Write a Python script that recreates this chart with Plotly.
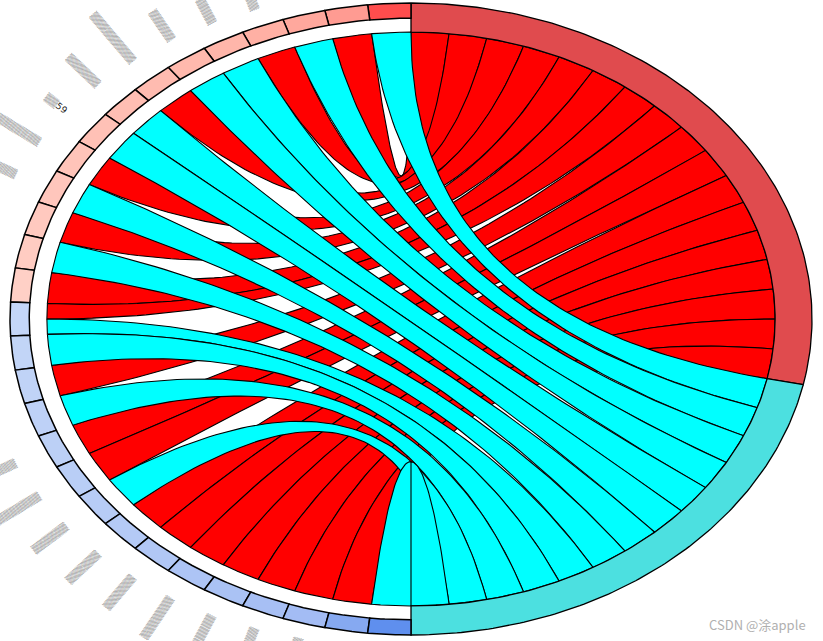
import numpy as np
import plotly.graph_objects as go
from plotly.colors import sample_colorscale

# Terms on the right half, clockwise from the top
TERM_COLORS = {"A": "#E04B4E", "B": "#4CE0E0"}
RIBBON_COLORS = {"A": "#FF0000", "B": "#00FFFF"}

# Each gene block, top of the left half going counter-clockwise: the terms it links to
GENE_TERMS = [
    ["B"], ["A"], ["B"], ["A"], ["B"], ["B"], ["A"], ["B"], ["B"], ["A"], ["B"], ["A"], ["B"], ["A"],
    ["A", "B"], ["B"], ["A"], ["B"], ["A"], ["A"], ["B"],
    ["A"], ["A"], ["A"], ["A"], ["A"], ["A"], ["A"], ["B"],
]
# Block value, same order
GENE_VALUES = [
    1.00, 0.62, 0.56, 0.52, 0.48, 0.45, 0.42, 0.39, 0.36, 0.33, 0.30, 0.27, 0.24, 0.20,
    -0.18, -0.20, -0.22, -0.24, -0.26, -0.28, -0.30, -0.33, -0.36, -0.39, -0.42, -0.45, -0.48, -0.70, -1.00,
]
# The reference's gene names are pixelated; only a few end characters can be read
DARK = '<span style="color:#222">%s</span>'
GENE_LABELS = [
    "▒▒▒▒", "▒▒▒▒", "▒▒▒" + DARK % "7", "▒▒▒▒", "▒▒▒▒", "▒▒▒▒▒", "▒▒▒▒▒▒▒▒▒", "▒▒▒▒▒▒", "▒▒" + DARK % "59", "▒▒▒▒▒▒▒▒", DARK % "C" + "▒▒▒▒▒", "▒▒▒", "▒▒▒", "▒▒▒",
    "▒▒▒", "▒▒▒", "▒▒▒", "▒▒▒▒", "▒▒▒", "▒▒▒▒▒▒▒▒", "▒▒▒▒▒▒", "▒▒▒▒▒▒", "▒▒▒▒▒▒", "▒▒▒▒▒▒▒", "▒▒▒▒▒▒", "▒▒▒▒▒", "▒▒▒▒", "▒▒▒", "▒▒▒",
]
LABEL_CHARS = [4, 4, 4, 4, 4, 5, 9, 6, 4, 8, 6, 3, 3, 3, 3, 3, 3, 4, 3, 8, 6, 6, 6, 7, 6, 5, 4, 3, 3]
LABEL_CHAR_PX = 7

CX, CY, RX, RY = 411, 319, 401, 316
R_OUT, R_BLOCK, R_IN = 1.0, 0.952, 0.908
COLORSCALE = [[0, "#5F8FEE"], [0.28, "#A8C0F4"], [0.5, "#D8E6FA"], [0.5001, "#FFE2DA"], [0.75, "#FFB4A8"], [1, "#FF4D4D"]]

def pt(theta, r):
    t = np.radians(theta)
    return r * np.sin(t), r * np.cos(t)

def arc(a, b, r, n=40):
    return pt(np.linspace(a, b, n), r)

def bez(p0, p2, n=80):
    t = np.linspace(0, 1, n)
    return (1 - t) ** 2 * p0[0] + t ** 2 * p2[0], (1 - t) ** 2 * p0[1] + t ** 2 * p2[1]

fig = go.Figure()

def poly(xs, ys, fill, width=1.0):
    fig.add_trace(go.Scatter(x=np.concatenate(xs), y=np.concatenate(ys), mode="lines", fill="toself",
                             fillcolor=fill, line=dict(color="black", width=width), hoverinfo="skip", showlegend=False))

n_links = sum(len(g) for g in GENE_TERMS)
slot = 180 / n_links
terms = list(TERM_COLORS)
counts = {k: sum(g.count(k) for g in GENE_TERMS) for k in terms}
start = {}
acc = 0
for k in terms:
    start[k] = acc
    acc += counts[k] * slot
gene_w = 180 / len(GENE_TERMS)

ribbons = {k: [] for k in terms}
used = {k: 0 for k in terms}
for i, links in enumerate(GENE_TERMS):
    top = 360 - i * gene_w
    w = gene_w / len(links)
    for j, k in enumerate(links):
        a1, a2 = top - j * w, top - (j + 1) * w
        b1 = start[k] + used[k] * slot
        b2 = b1 + slot
        used[k] += 1
        ribbons[k].append((a1, a2, b1, b2))

for k in terms:
    for a1, a2, b1, b2 in ribbons[k]:
        e1 = bez(pt(a1, R_IN), pt(b1, R_IN))
        s2 = arc(b1, b2, R_IN)
        e2 = bez(pt(b2, R_IN), pt(a2, R_IN))
        s1 = arc(a2, a1, R_IN)
        poly([e1[0], s2[0], e2[0], s1[0]], [e1[1], s2[1], e2[1], s1[1]], RIBBON_COLORS[k], 1.1)

for k in terms:
    a, b = start[k], start[k] + counts[k] * slot
    o = arc(a, b, R_OUT, 120)
    n = arc(b, a, R_IN, 120)
    poly([o[0], n[0], o[0][:1]], [o[1], n[1], o[1][:1]], TERM_COLORS[k], 1.3)

annotations = []
for i, v in enumerate(GENE_VALUES):
    top = 360 - i * gene_w
    o = arc(top, top - gene_w, R_OUT, 12)
    n = arc(top - gene_w, top, R_BLOCK, 12)
    col = sample_colorscale(COLORSCALE, [(v + 1) / 2])[0]
    poly([o[0], n[0], o[0][:1]], [o[1], n[1], o[1][:1]], col, 1.5)
    th = (i + 0.5) * gene_w
    r_end = 1.03 + 0.06 * np.sin(np.radians(th))
    x, y = pt(360 - th, r_end)
    half = LABEL_CHARS[i] * LABEL_CHAR_PX / 2
    annotations.append(dict(x=x, y=y, text=GENE_LABELS[i], showarrow=False, textangle=90 - th,
                            font=dict(size=9, color="#9a9a9a", family="DejaVu Sans"),
                            xanchor="center", yanchor="middle",
                            xshift=-np.sin(np.radians(th)) * half, yshift=np.cos(np.radians(th)) * half))

annotations.append(dict(xref="paper", yref="paper", x=808 / 823, y=1 - 624 / 641, text="CSDN @涂apple", showarrow=False,
                        xanchor="right", yanchor="middle",
                        font=dict(size=13, color="#B0B0B0", family="Noto Sans CJK SC")))

fig.update_layout(
    width=823, height=641, margin=dict(l=0, r=0, t=0, b=0), paper_bgcolor="white", plot_bgcolor="white",
    xaxis=dict(range=[-CX / RX, (823 - CX) / RX], visible=False),
    yaxis=dict(range=[(CY - 641) / RY, CY / RY], visible=False),
    annotations=annotations, showlegend=False,
)
fig.write_html("out.html", config={"displayModeBar": False},
               post_script="document.body.style.margin='0';document.documentElement.style.overflow='hidden';")
